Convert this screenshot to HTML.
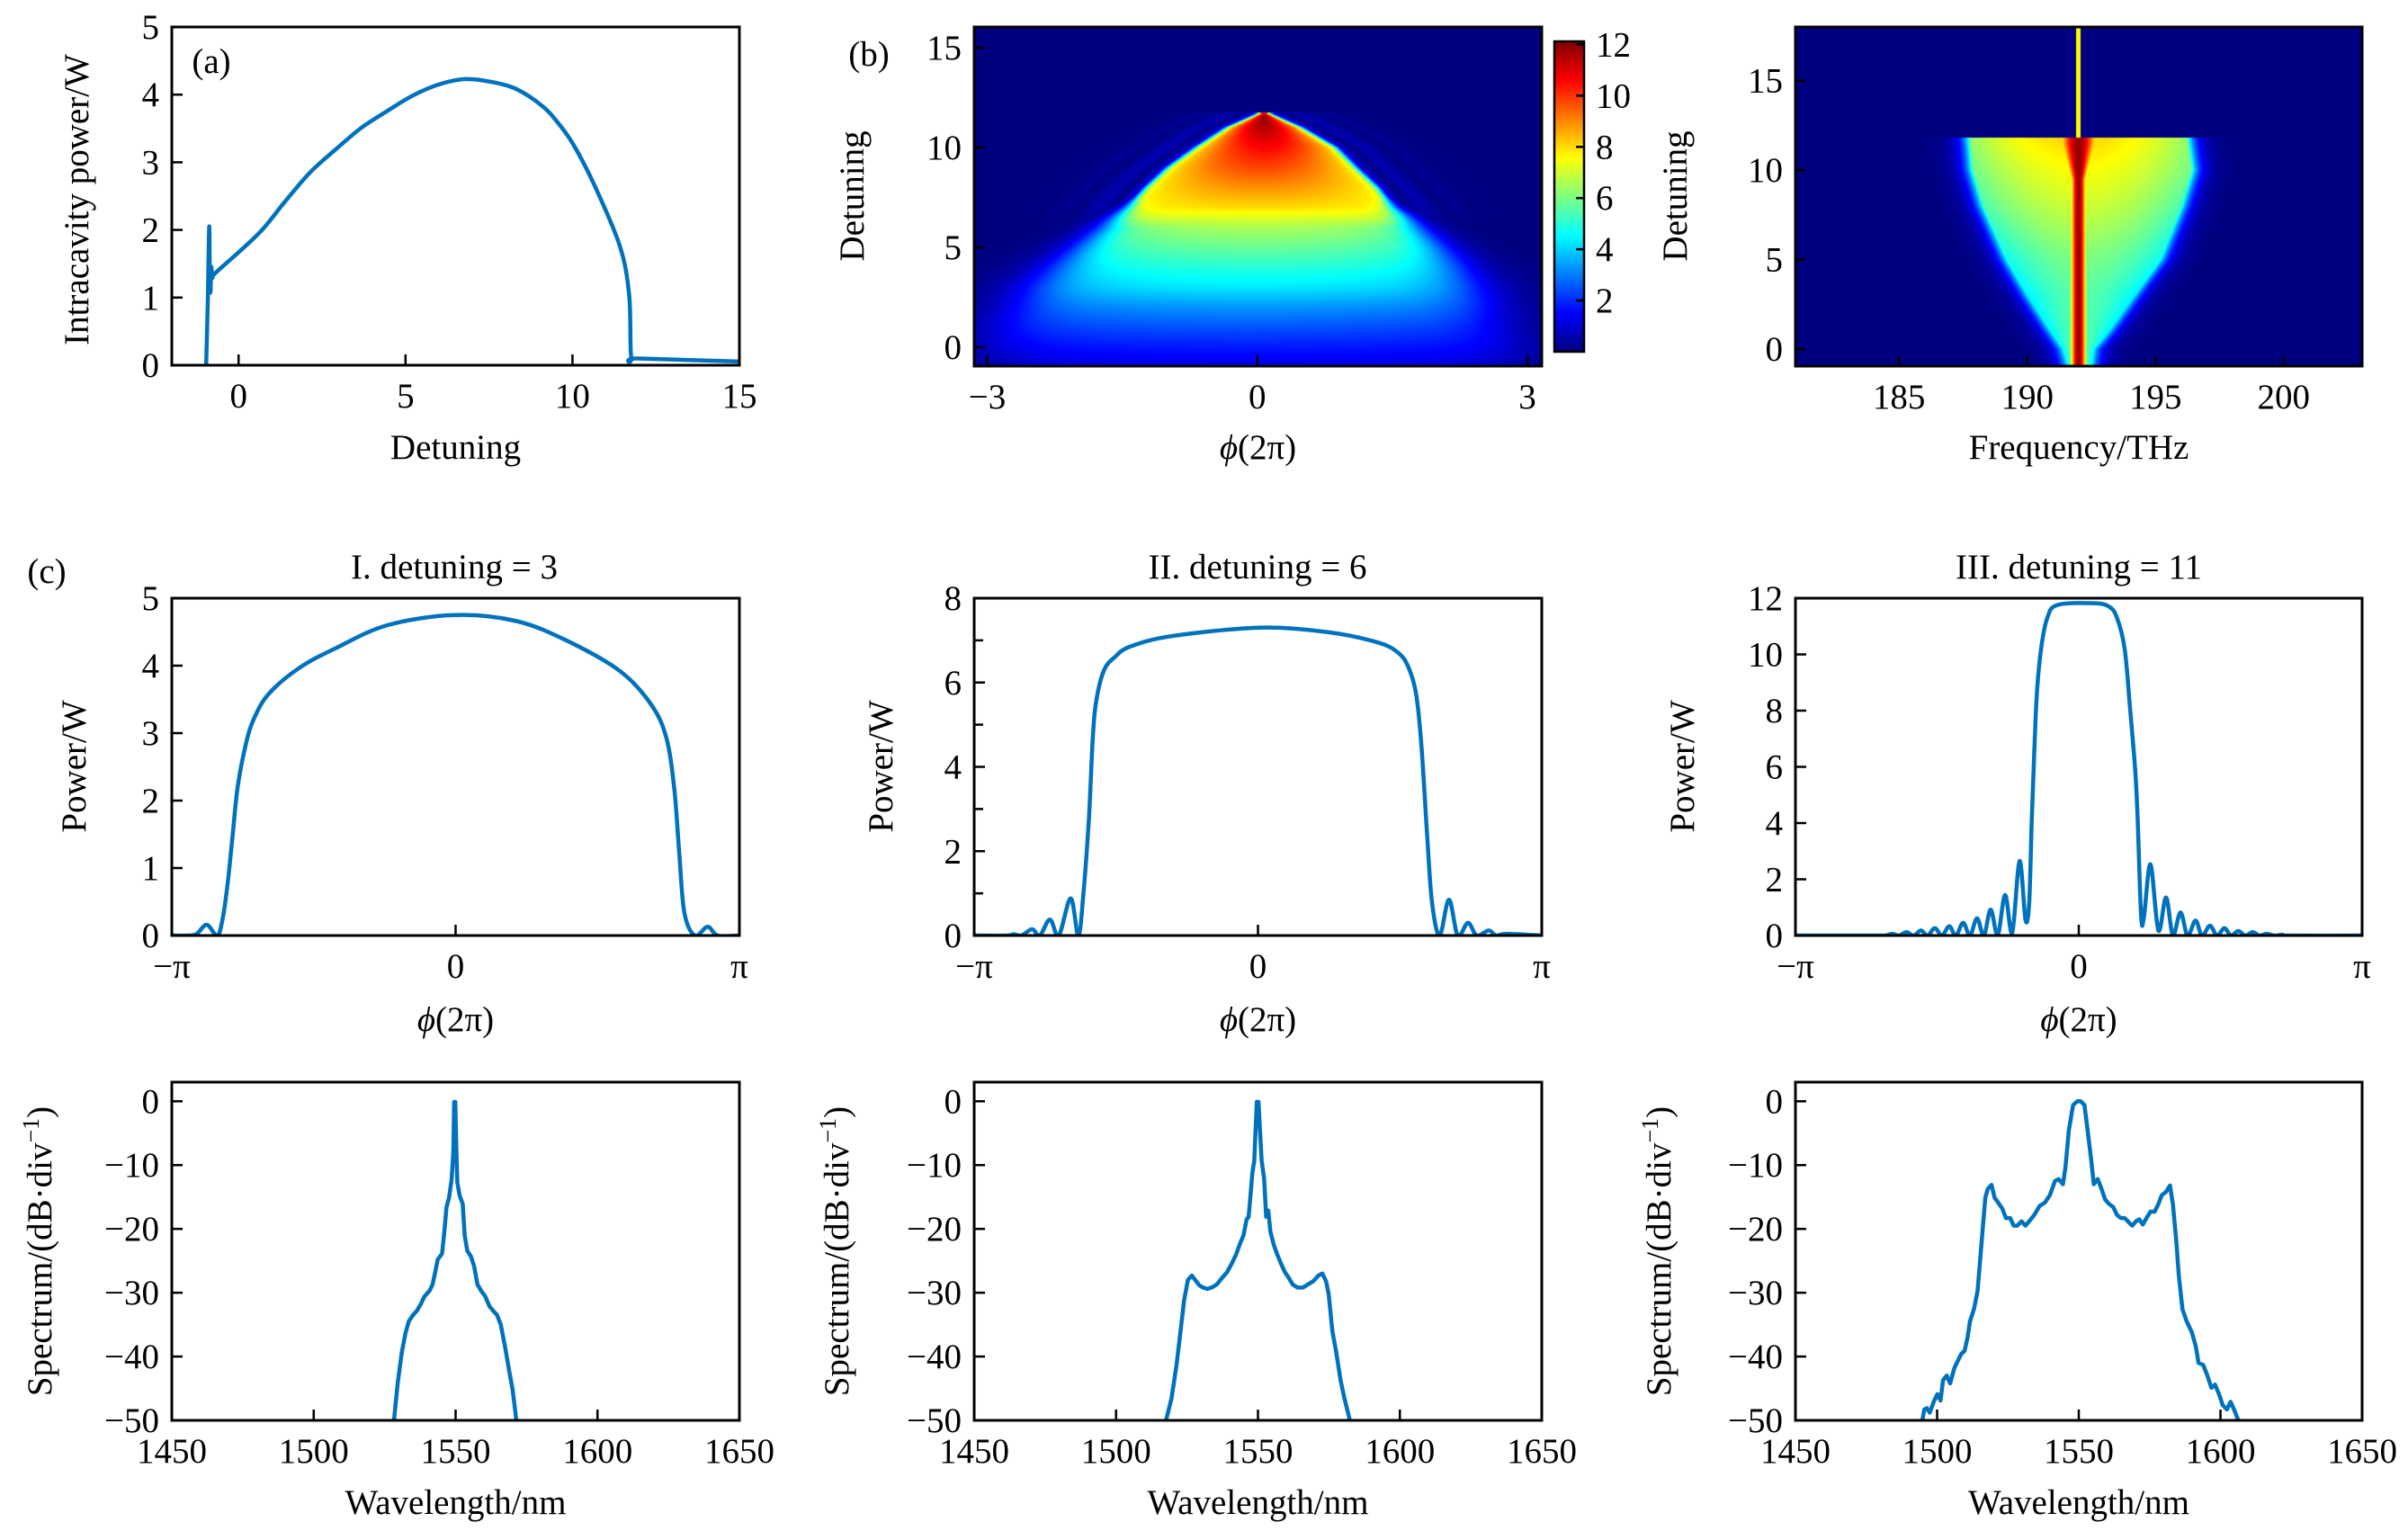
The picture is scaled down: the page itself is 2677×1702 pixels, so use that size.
<!DOCTYPE html>
<html><head><meta charset="utf-8">
<style>
html,body{margin:0;padding:0;background:#fff;}
#wrap{position:relative;width:2677px;height:1702px;overflow:hidden;}
canvas{position:absolute;}
svg{position:absolute;left:0;top:0;}
text{font-family:"Liberation Serif",serif;font-size:39px;fill:#000;}
</style></head>
<body>
<div id="wrap">
<canvas id="cb" style="left:1083px;top:30px" width="631" height="377"></canvas>
<canvas id="cf" style="left:1996px;top:30px" width="630" height="377"></canvas>
<div style="position:absolute;left:1728px;top:46px;width:33px;height:345px;background:linear-gradient(to top,#00007f 0%,#0000ff 12.5%,#00ffff 37.5%,#ffff00 62.5%,#ff0000 87.5%,#7f0000 100%);"></div>
<svg id="svg" width="2677" height="1702" viewBox="0 0 2677 1702"></svg>
</div>
<script>
// ---------- data ----------
const aDet=[-0.97,-0.92,-0.88,-0.86,-0.84,-0.82,-0.78,-0.68,0.59,1.36,2.14,2.91,3.68,4.46,5.23,6.0,6.78,7.55,8.33,9.1,9.57,10.03,10.65,11.42,11.70,11.76,11.96,15];
const aPow=[0,1.0,2.05,1.2,1.1,1.45,1.3,1.37,1.94,2.4,2.85,3.19,3.51,3.76,3.99,4.15,4.23,4.19,4.08,3.83,3.58,3.26,2.67,1.76,1.03,0.12,0.1,0.055];

const c1Phi=[-0.999,-0.950,-0.914,-0.877,-0.841,-0.823,-0.804,-0.786,-0.768,-0.741,-0.713,-0.659,-0.550,-0.422,-0.240,-0.004,0.215,0.397,0.579,0.688,0.742,0.770,0.788,0.806,0.843,0.888,0.924,1.0];
const c1Pow=[0,0,0.02,0.16,0,0.2,0.74,1.47,2.2,2.8,3.19,3.58,3.97,4.26,4.6,4.75,4.66,4.36,3.92,3.43,2.94,2.2,1.23,0.34,0,0.13,0,0];

const c2Phi=[-1.0,-0.887,-0.860,-0.833,-0.796,-0.769,-0.733,-0.702,-0.660,-0.633,-0.615,-0.596,-0.582,-0.569,-0.542,-0.505,-0.451,-0.305,0,0.240,0.422,0.495,0.531,0.558,0.576,0.595,0.613,0.640,0.673,0.704,0.740,0.771,0.813,0.840,0.876,1.0];
const c2Pow=[0,0,0.03,0,0.15,0,0.38,0,0.88,0,1.0,2.75,4.7,5.6,6.3,6.6,6.85,7.1,7.3,7.2,6.95,6.7,6.35,5.7,4.5,2.5,0.8,0,0.85,0,0.3,0,0.12,0,0.04,0];

const c3Phi=[-1.0,-0.712,-0.683,-0.658,-0.634,-0.608,-0.583,-0.557,-0.534,-0.508,-0.483,-0.457,-0.434,-0.408,-0.384,-0.359,-0.335,-0.311,-0.286,-0.260,-0.235,-0.209,-0.188,-0.175,-0.166,-0.157,-0.148,-0.133,-0.111,-0.075,0.053,0.107,0.135,0.162,0.180,0.199,0.208,0.220,0.230,0.253,0.281,0.308,0.332,0.359,0.384,0.412,0.435,0.463,0.488,0.514,0.537,0.563,0.588,0.614,0.638,0.663,0.690,0.718,0.745,1.0];
const c3Pow=[0,0,0,0.06,0,0.12,0,0.18,0,0.26,0,0.33,0,0.45,0,0.61,0,0.92,0.02,1.44,0.1,2.65,0.55,1.18,4.1,6.5,8.6,10.2,11.3,11.76,11.82,11.7,11.3,10.2,8.2,5.9,4.1,0.7,0.65,2.53,0.18,1.35,0.02,0.82,0,0.53,0,0.35,0,0.26,0,0.16,0,0.12,0,0.06,0,0.03,0,0];

const s1Wl=[1528.3,1529.6,1531.0,1532.3,1533.5,1535.0,1536.4,1537.7,1539.0,1540.8,1541.9,1542.8,1543.7,1545.2,1545.9,1546.8,1547.7,1548.6,1549.2,1549.5,1549.9,1550.3,1550.6,1551.4,1552.5,1553.2,1554.1,1555.4,1556.5,1557.7,1559.0,1560.5,1561.9,1563.2,1564.6,1565.9,1567.4,1568.7,1570.1,1571.4];
const s1Db=[-50,-44.2,-39.4,-36.4,-34.5,-33.5,-32.8,-31.8,-30.6,-29.7,-28.7,-26.8,-24.8,-23.9,-21.0,-16.6,-15.1,-12.2,-7.9,-0.1,-0.1,-7.9,-12.7,-14.7,-16.1,-21.0,-23.4,-24.3,-25.8,-28.7,-29.7,-30.6,-32.1,-32.8,-33.5,-35.0,-38.4,-41.8,-45.2,-50];

const s2Wl=[1517.6,1519.5,1521.3,1522.7,1524.0,1525.3,1526.7,1528.2,1529.5,1530.7,1532.2,1533.6,1535.5,1537.3,1539.1,1540.9,1542.4,1543.6,1544.9,1546.0,1546.7,1547.3,1548.0,1548.7,1549.3,1549.6,1550.2,1550.7,1551.3,1552.2,1552.9,1553.6,1554.4,1555.5,1556.7,1558.0,1559.5,1560.9,1562.2,1564.0,1565.8,1567.6,1569.5,1571.3,1572.7,1574.0,1574.9,1576.2,1577.6,1579.1,1580.5,1582.4];
const s2Db=[-50,-46.6,-41.3,-36.0,-31.1,-28.0,-27.3,-28.2,-28.9,-29.2,-29.4,-29.2,-28.7,-27.7,-26.8,-25.3,-23.9,-22.4,-21.0,-18.5,-18.1,-15.1,-11.3,-9.3,-3.0,-0.1,-0.1,-4.5,-9.3,-12.2,-18.1,-17.1,-20.5,-22.4,-23.9,-25.3,-26.8,-27.7,-28.7,-29.2,-29.2,-28.7,-28.2,-27.3,-27.0,-28.2,-30.2,-36.0,-39.4,-43.7,-46.6,-50];

const s3Wl=[1494.8,1495.5,1496.4,1497.4,1498.8,1500.1,1501.2,1502.1,1503.4,1504.6,1506.1,1507.4,1508.5,1509.7,1510.8,1511.6,1513.0,1514.3,1515.2,1516.1,1517.0,1517.9,1519.2,1520.3,1521.6,1523.0,1524.3,1525.8,1527.0,1528.3,1529.8,1531.2,1532.5,1534.3,1536.2,1538.0,1539.8,1541.6,1542.9,1544.4,1545.3,1546.5,1548.0,1549.5,1550.7,1552.0,1553.1,1554.4,1555.3,1556.7,1558.0,1559.3,1560.7,1562.2,1563.5,1564.8,1566.2,1567.7,1568.9,1570.2,1571.3,1572.6,1573.9,1575.3,1576.8,1578.1,1579.3,1580.8,1582.2,1583.2,1584.4,1585.3,1586.6,1588.1,1589.9,1591.3,1592.3,1593.9,1595.4,1596.8,1598.1,1599.5,1600.8,1602.3,1603.6,1604.8,1606.3];
const s3Db=[-50,-48.3,-48.1,-48.8,-47.1,-45.9,-46.9,-43.7,-43.0,-44.2,-41.8,-40.6,-39.6,-39.1,-36.9,-34.5,-32.6,-29.7,-24.8,-20.0,-15.1,-13.7,-13.1,-15.1,-15.9,-16.8,-18.3,-18.3,-19.5,-19.5,-18.8,-19.5,-18.8,-17.8,-16.4,-15.9,-14.7,-12.5,-12.2,-13.0,-10.3,-4.5,-0.6,0,0,-0.6,-4.5,-9.3,-13.0,-12.2,-13.7,-15.4,-16.1,-16.6,-17.8,-18.3,-18.3,-19.0,-19.5,-18.8,-18.5,-19.3,-18.3,-17.3,-17.3,-16.1,-14.7,-14.2,-13.2,-16.1,-21.9,-27.3,-32.6,-34.5,-36.2,-38.4,-41.0,-41.3,-43.0,-44.9,-44.4,-45.9,-47.6,-48.3,-47.1,-48.3,-50];

// heatmap (b) row descriptors
const bRowsD=[-0.95,0,1,2,3,4,5,6,6.5,7,8,9,10,11,11.7];
const bLeft=[-2.9,-3.0,-2.9,-2.7,-2.5,-2.25,-1.98,-1.7,-1.57,-1.44,-1.24,-1.0,-0.69,-0.35,0.0];
const bRight=[2.9,2.9,2.71,2.6,2.43,2.25,2.03,1.78,1.65,1.51,1.34,1.1,0.88,0.5,0.15];
const bPeak=[1.2,1.8,2.5,3.3,4.3,5.0,5.8,6.6,7.2,8.0,8.9,9.8,10.6,11.5,11.8];
const bTop=11.75, bMax=12.12;
const cbTicks=[2,4,6,8,10,12];

// spectrogram row descriptors
const fRowsD=[-0.95,0,1,3,5,8,10,11.8];
const fLeft=[191.6,191.4,190.9,190.0,189.2,188.3,187.9,187.8];
const fRight=[192.5,192.6,193.2,194.2,195.2,196.0,196.4,196.2];
const fLevel=[0.42,0.42,0.4,0.4,0.43,0.5,0.54,0.58];
const fCenter=192.0, fTop=11.8;

// ---------- layout ----------
const P={
 a:{x0:191,x1:822,y0:30,y1:406,xmin:-2,xmax:15,ymin:0,ymax:5},
 b:{x0:1083,x1:1714,y0:30,y1:407,xmin:-3.145,xmax:3.16,ymin:-0.95,ymax:16.04},
 f:{x0:1996,x1:2626,y0:30,y1:407,xmin:180.96,xmax:203.06,ymin:-0.95,ymax:18.0},
 c1:{x0:191,x1:822,y0:665,y1:1040,xmin:-1,xmax:1,ymin:0,ymax:5},
 c2:{x0:1083,x1:1714,y0:665,y1:1040,xmin:-1,xmax:1,ymin:0,ymax:8},
 c3:{x0:1996,x1:2626,y0:665,y1:1040,xmin:-1,xmax:1,ymin:0,ymax:12},
 s1:{x0:191,x1:822,y0:1203,y1:1579,xmin:1450,xmax:1650,ymin:-50,ymax:3},
 s2:{x0:1083,x1:1714,y0:1203,y1:1579,xmin:1450,xmax:1650,ymin:-50,ymax:3},
 s3:{x0:1996,x1:2626,y0:1203,y1:1579,xmin:1450,xmax:1650,ymin:-50,ymax:3}
};
function sx(p,v){return p.x0+(v-p.xmin)/(p.xmax-p.xmin)*(p.x1-p.x0);}
function sy(p,v){return p.y1-(v-p.ymin)/(p.ymax-p.ymin)*(p.y1-p.y0);}

const NS="http://www.w3.org/2000/svg";
const svg=document.getElementById('svg');
function el(tag,attrs,parent){const e=document.createElementNS(NS,tag);for(const k in attrs)e.setAttribute(k,attrs[k]);(parent||svg).appendChild(e);return e;}
function txt(s,x,y,anchor,name,parent){const t=el('text',{x:x,y:y,'text-anchor':anchor||'middle'},parent);t.textContent=s;


return t;}

function frame(key,name){const p=P[key];
 const r=el('rect',{x:p.x0,y:p.y0,width:p.x1-p.x0,height:p.y1-p.y0,fill:'none',stroke:'#000','stroke-width':3});
 
 
}
function xticks(key,vals,labels,name){const p=P[key];
 vals.forEach((v,i)=>{const x=sx(p,v);
  const t=el('line',{x1:x,x2:x,y1:p.y1,y2:p.y1-12,stroke:'#000','stroke-width':2.5});
  
  
  txt(labels[i],x,p.y1+47,'middle',name+'-x-tick-label');});
}
function yticks(key,vals,labels,name,minor){const p=P[key];
 vals.forEach((v,i)=>{const y=sy(p,v);
  const t=el('line',{x1:p.x0,x2:p.x0+12,y1:y,y2:y,stroke:'#000','stroke-width':2.5});
  
  
  txt(labels[i],p.x0-14,y+13,'end',name+'-y-tick-label');});
 (minor||[]).forEach(v=>{const y=sy(p,v);
  const t=el('line',{x1:p.x0,x2:p.x0+10,y1:y,y2:y,stroke:'#000','stroke-width':2.5});
  
  });
}
function ylabel(s,cx,cy,name){const t=el('text',{x:0,y:0,'text-anchor':'middle',transform:`translate(${cx},${cy}) rotate(-90)`});t.textContent=s;
 
 return t;}
function curve(key,xs,ys,name,smooth){const p=P[key];
 const cp=el('clipPath',{id:'clip-'+key});el('rect',{x:p.x0,y:p.y0,width:p.x1-p.x0,height:p.y1-p.y0},cp);
 const pts=xs.map((v,i)=>[sx(p,v),sy(p,ys[i])]);
 let d='M'+pts[0][0].toFixed(1)+','+pts[0][1].toFixed(1);
 for(let i=1;i<pts.length;i++){
  if(smooth){const p0=pts[Math.max(0,i-2)],p1=pts[i-1],p2=pts[i],p3=pts[Math.min(pts.length-1,i+1)];
   const k=1/6;
   const c1=[p1[0]+(p2[0]-p0[0])*k,p1[1]+(p2[1]-p0[1])*k],c2=[p2[0]-(p3[0]-p1[0])*k,p2[1]-(p3[1]-p1[1])*k];
   d+='C'+c1[0].toFixed(1)+','+c1[1].toFixed(1)+' '+c2[0].toFixed(1)+','+c2[1].toFixed(1)+' '+p2[0].toFixed(1)+','+p2[1].toFixed(1);
  } else d+='L'+pts[i][0].toFixed(1)+','+pts[i][1].toFixed(1);}
 const path=el('path',{d:d,fill:'none',stroke:'#0072BD','stroke-width':4.5,'stroke-linejoin':'round','stroke-linecap':'round','clip-path':'url(#clip-'+key+')'});
 
 
}
function phiLabel(cx,y,name){const t=el('text',{x:cx,y:y,'text-anchor':'middle'});
 const a=el('tspan',{'font-style':'italic'},t);a.textContent='ϕ';
 const b=el('tspan',{},t);b.textContent='(2π)';
 
 }

// ---------- panel a ----------
curve('a',aDet,aPow,'intracavity-power-line',true);
frame('a','panel-a');
xticks('a',[0,5,10,15],['0','5','10','15'],'panel-a');
yticks('a',[0,1,2,3,4,5],['0','1','2','3','4','5'],'panel-a');
txt('Detuning',(P.a.x0+P.a.x1)/2,510,'middle','panel-a-x-axis-title');
ylabel('Intracavity power/W',98,222,'panel-a-y-axis-title');
txt('(a)',235,81,'middle','panel-a-label');

// ---------- panel b ----------
frame('b','panel-b');
xticks('b',[-3,0,3],['−3','0','3'],'panel-b');
yticks('b',[0,5,10,15],['0','5','10','15'],'panel-b');
phiLabel((P.b.x0+P.b.x1)/2,510,'panel-b-x-axis-title');
ylabel('Detuning',960,218,'panel-b-y-axis-title');
txt('(b)',966,73,'middle','panel-b-label');
const cbr=el('rect',{x:1728,y:46,width:33,height:345,fill:'none',stroke:'#000','stroke-width':2.5});


cbTicks.forEach(v=>{const y=391-v/bMax*345;
 const t=el('line',{x1:1761,x2:1752,y1:y,y2:y,stroke:'#000','stroke-width':2.5});
 
 
 txt(String(v),1774,y+13,'start','colorbar-tick-label');});

// ---------- panel f ----------
frame('f','panel-spectrogram');
xticks('f',[185,190,195,200],['185','190','195','200'],'panel-spectrogram');
yticks('f',[0,5,10,15],['0','5','10','15'],'panel-spectrogram');
txt('Frequency/THz',(P.f.x0+P.f.x1)/2,510,'middle','panel-spectrogram-x-axis-title');
ylabel('Detuning',1875,218,'panel-spectrogram-y-axis-title');

// ---------- row c ----------
const piT=['−π','0','π'];
[['c1',c1Phi,c1Pow,[0,1,2,3,4,5],'I. detuning = 3',505,95,[]],
 ['c2',c2Phi,c2Pow,[0,2,4,6,8],'II. detuning = 6',1398,992,[1,3,5,7]],
 ['c3',c3Phi,c3Pow,[0,2,4,6,8,10,12],'III. detuning = 11',2311,1883,[]]].forEach(c=>{
 const k=c[0],p=P[k];
 curve(k,c[1],c[2],k+'-power-line',true);
 frame(k,k);
 xticks(k,[-1,0,1],piT,k);
 yticks(k,c[3],c[3].map(String),k,c[7]);
 phiLabel((p.x0+p.x1)/2,1146,k+'-x-axis-title');
 ylabel('Power/W',c[6],852,k+'-y-axis-title');
 txt(c[4],c[5],643,'middle',k+'-title');
});
txt('(c)',52,648,'middle','panel-c-label');

// ---------- spectra ----------
[['s1',s1Wl,s1Db,57],['s2',s2Wl,s2Db,943],['s3',s3Wl,s3Db,1857]].forEach(c=>{
 const k=c[0],p=P[k];
 curve(k,c[1],c[2],k+'-spectrum-line',false);
 frame(k,k);
 xticks(k,[1450,1500,1550,1600,1650],['1450','1500','1550','1600','1650'],k);
 yticks(k,[0,-10,-20,-30,-40,-50],['0','−10','−20','−30','−40','−50'],k);
 txt('Wavelength/nm',(p.x0+p.x1)/2,1683,'middle',k+'-x-axis-title');
 const t=ylabel('Spectrum/(dB·div',c[3],1391,k+'-y-axis-title');
 const s=el('tspan',{'baseline-shift':'super','font-size':'26px'},t);s.textContent='−1';
 const e=el('tspan',{},t);e.textContent=')';
});

// ---------- colormap ----------
function jet(t){t=Math.max(0,Math.min(1,t));const c=v=>Math.round(255*Math.max(0,Math.min(1,v)));
 return [c(1.5-Math.abs(4*t-3)),c(1.5-Math.abs(4*t-2)),c(1.5-Math.abs(4*t-1))];}
function interp(xs,ys,x){if(x<=xs[0])return ys[0];for(let i=1;i<xs.length;i++){if(x<=xs[i]){const f=(x-xs[i-1])/(xs[i]-xs[i-1]);return ys[i-1]+f*(ys[i]-ys[i-1]);}}return ys[ys.length-1];}

// heatmap b
(function(){const cv=document.getElementById('cb'),ctx=cv.getContext('2d'),W=cv.width,H=cv.height,p=P.b;
 const img=ctx.createImageData(W,H);
 for(let j=0;j<H;j++){const d=p.ymax-(j+0.5)/H*(p.ymax-p.ymin);
  const L=interp(bRowsD,bLeft,d),R=interp(bRowsD,bRight,d),pk=interp(bRowsD,bPeak,d);
  const mid=(L+R)/2,hw=Math.max(0.02,(R-L)/2);
  const soft=interp([-1,3,6,7.5,12],[0.5,0.45,0.25,0.06,0.05],d);
  const inner=interp([-1,6,7,12],[1,1,0,0],d);
  for(let i=0;i<W;i++){const ph=p.xmin+(i+0.5)/W*(p.xmax-p.xmin);
   let v=0;
   if(d<=bTop){
    const u=(ph-mid)/hw,uu=Math.min(1,u*u);
    const profHi=pk-(pk-7.6)*uu, profLo=pk*(1-0.12*uu);
    const prof=d>=7?profHi:(inner*profLo+(1-inner)*profHi);
    const margin=Math.min(ph-L,R-ph);
    const ef=1/(1+Math.exp(-margin/(soft*0.5)));
    v=prof*ef;
    if(d>6&&margin<0){const dist=-margin;const w=Math.min(1,(d-6));v=Math.max(v,1.4*w*Math.exp(-dist/0.35)*Math.abs(Math.cos(dist*9)));}
   }
   const c=jet(v/bMax),o=(j*W+i)*4;img.data[o]=c[0];img.data[o+1]=c[1];img.data[o+2]=c[2];img.data[o+3]=255;}}
 ctx.putImageData(img,0,0);})();

// spectrogram
(function(){const cv=document.getElementById('cf'),ctx=cv.getContext('2d'),W=cv.width,H=cv.height,p=P.f;
 const img=ctx.createImageData(W,H);
 for(let j=0;j<H;j++){const d=p.ymax-(j+0.5)/H*(p.ymax-p.ymin);
  const L=interp(fRowsD,fLeft,d),R=interp(fRowsD,fRight,d),lv=interp(fRowsD,fLevel,d);
  const mid=(L+R)/2,hw=(R-L)/2;
  const coreW=d>9.5?0.3+0.45*Math.min(1,(d-9.5)/2):0.3;
  for(let i=0;i<W;i++){const f=p.xmin+(i+0.5)/W*(p.xmax-p.xmin);
   let t=0;
   if(d<=fTop){
    const margin=Math.min(f-L,R-f);
    if(margin>=0){const u=(f-mid)/hw;t=lv*(0.9+0.25*(1-u*u));}
    else t=lv*0.9*Math.exp(margin/0.35);
    const dc=Math.abs(f-fCenter);
    t=Math.max(t,0.98*Math.exp(-0.6*(dc/coreW)*(dc/coreW)));
   } else if(Math.abs(f-fCenter)<0.08){t=0.62;}
   const c=jet(t),o=(j*W+i)*4;img.data[o]=c[0];img.data[o+1]=c[1];img.data[o+2]=c[2];img.data[o+3]=255;}}
 ctx.putImageData(img,0,0);})();
</script>
</body></html>
